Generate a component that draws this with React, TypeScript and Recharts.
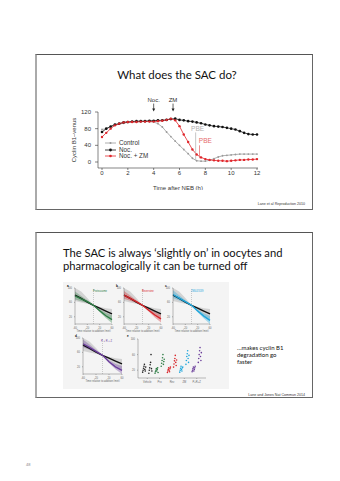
import React from 'react';
import {
  LineChart, Line, XAxis, YAxis, ReferenceLine, ReferenceDot,
  ComposedChart, Area, ScatterChart, Scatter,
} from 'recharts';

// top slide: cyclin B1-venus after NEB
const times = [0, 0.33, 0.67, 1, 1.33, 1.67, 2, 2.33, 2.67, 3, 3.33, 3.67, 4, 4.33, 4.67, 5, 5.33, 5.67, 6, 6.33, 6.67, 7, 7.33, 7.67, 8, 8.33, 8.67, 9, 9.33, 9.67, 10, 10.33, 10.67, 11, 11.33, 11.67, 12];
const control = [78, 80, 85, 88, 91, 93, 95, 96, 97, 97, 98, 97, 96, 92, 84, 72, 61, 50, 40, 30, 20, 9, 3, 2, 2, 4, 8, 12, 15, 16, 17, 18, 19, 19, 19, 19, 19];
const noc = [72, 80, 85, 90, 92, 95, 96, 97, 98, 98, 98, 99, 99, 100, 100, 101, 103, 104, 101, 100, 98, 97, 95, 93, 90, 88, 86, 85, 84, 82, 80, 78, 74, 70, 67, 66, 66];
const nocZm = [60, 70, 80, 88, 92, 95, 96, 96, 96, 97, 97, 97, 97, 98, 99, 101, 104, 100, 86, 66, 48, 30, 18, 11, 7, 5, 4, 3, 3, 2, 3, 4, 5, 5, 6, 6, 7];
const xTicks = [0, 2, 4, 6, 8, 10, 12];
const yTicks = [0, 40, 80, 120];

// bottom slide: small panels (time relative to addition, min)
const relTimes = [-60, -40, -20, 0, 20, 40, 60];
const blackTrend = [80, 71, 61, 52, 44, 36, 28];
const grayLo = [64, 60, 56, 52, 38, 24, 12];
const grayHi = [100, 90, 72, 52, 48, 44, 42];
const proteasome = [78, 70, 62, 52, 37, 23, 12];
const reversine = [80, 71, 62, 52, 38, 25, 14];
const zmDrug = [82, 72, 62, 52, 36, 22, 10];
const combo = [84, 74, 63, 52, 34, 20, 10];

const vehBefore = [15, 20, 25, 30, 35, 22, 18, 28];
const vehAfter = [12, 20, 26, 34, 40, 60, 24, 18];
const proBefore = [12, 16, 20, 24, 18, 22, 26, 14];
const proAfter = [30, 38, 45, 52, 60, 35, 42, 48];
const revBefore = [14, 18, 22, 26, 20, 16, 24, 28];
const revAfter = [28, 36, 44, 50, 58, 40, 32, 46];
const zmBefore = [15, 20, 25, 30, 22, 18, 26, 28];
const zmAfter = [35, 45, 55, 62, 70, 50, 40, 58];
const przBefore = [16, 20, 24, 28, 18, 22, 26, 30];
const przAfter = [40, 50, 60, 70, 78, 55, 45, 65];
const groups = ['Vehicle', 'Pro', 'Rev', 'ZM', 'P+R+Z'];

const GRAY = '#9a9a9a';
const RED = '#e0262b';
const axisFont = { fontSize: 6, fill: '#333', fontFamily: 'Liberation Sans, Arial, sans-serif' };

const chartData = times.map((t, i) => ({ t, control: control[i], noc: noc[i], nocZm: nocZm[i] }));

const LegendBox = () => {
  const rows = [
    { name: 'Control', color: GRAY, r: 1 },
    { name: 'Noc.', color: '#111', r: 1.4 },
    { name: 'Noc. + ZM', color: RED, r: 1.3 },
  ];
  return (
    <div style={{ fontFamily: 'Liberation Sans, Arial, sans-serif', fontSize: 6.3, color: '#333' }}>
      {rows.map(r => (
        <div key={r.name} style={{ display: 'flex', alignItems: 'center', height: 6.6, lineHeight: '6.6px' }}>
          <svg width={11} height={6} style={{ marginRight: 3 }}>
            <line x1={0} y1={3} x2={11} y2={3} stroke={r.color} strokeWidth={0.8} />
            <circle cx={5.5} cy={3} r={r.r} fill={r.color} />
          </svg>
          {r.name}
        </div>
      ))}
    </div>
  );
};

const arrowShape = (label: string) => (p: any) => (
  <g>
    <text x={p.cx} y={p.cy - 10} textAnchor="middle" fontSize={6} fill="#333" fontFamily="Liberation Sans, Arial, sans-serif">{label}</text>
    <line x1={p.cx} y1={p.cy - 8} x2={p.cx} y2={p.cy - 2} stroke="#222" strokeWidth={0.7} />
    <polygon points={`${p.cx - 1.5},${p.cy - 3} ${p.cx + 1.5},${p.cy - 3} ${p.cx},${p.cy}`} fill="#222" />
  </g>
);

const textShape = (label: string, color: string) => (p: any) => (
  <text x={p.cx} y={p.cy} textAnchor="middle" fontSize={6.5} fill={color} fontFamily="Liberation Sans, Arial, sans-serif">{label}</text>
);

const TopChart = () => (
  <LineChart width={200} height={95} data={chartData} margin={{ top: 17, right: 12, left: 0, bottom: 0 }}>
    <XAxis
      dataKey="t" type="number" domain={[0, 12]} ticks={xTicks} padding={{ left: 4, right: 1 }}
      tick={axisFont} tickSize={2} tickMargin={1} height={22} stroke="#333" strokeWidth={0.6}
      label={{ value: 'Time after NEB (h)', position: 'insideBottom', offset: 0, style: axisFont }}
    />
    <YAxis
      domain={[0, 120]} ticks={yTicks} padding={{ bottom: 6 }} width={28}
      tick={axisFont} tickSize={3} tickMargin={4} stroke="#333" strokeWidth={0.6}
      label={{ value: 'Cyclin B1–venus', angle: -90, position: 'insideLeft', offset: 4, style: { ...axisFont, textAnchor: 'middle' } }}
    />
    <Line dataKey="control" name="Control" stroke={GRAY} strokeWidth={0.8} dot={{ r: 0.9, fill: GRAY, stroke: 'none' }} isAnimationActive={false} />
    <Line dataKey="noc" name="Noc." stroke="#111" strokeWidth={0.8} dot={{ r: 1.3, fill: '#111', stroke: 'none' }} isAnimationActive={false} />
    <Line dataKey="nocZm" name="Noc. + ZM" stroke={RED} strokeWidth={0.8} dot={{ r: 1.2, fill: RED, stroke: 'none' }} isAnimationActive={false} />
    <ReferenceLine segment={[{ x: 7.25, y: 4 }, { x: 7.25, y: 71 }]} stroke="#b8b8b8" strokeWidth={0.8} ifOverflow="visible" />
    <ReferenceLine segment={[{ x: 7.55, y: 9 }, { x: 7.55, y: 40 }]} stroke="#e57373" strokeWidth={0.8} ifOverflow="visible" />
    <ReferenceDot x={7.4} y={74} ifOverflow="visible" shape={textShape('PBE', '#b0b0b0')} />
    <ReferenceDot x={8.0} y={45} ifOverflow="visible" shape={textShape('PBE', '#e56a6a')} />
    <ReferenceDot x={4} y={121} ifOverflow="visible" shape={arrowShape('Noc.')} />
    <ReferenceDot x={5.5} y={121} ifOverflow="visible" shape={arrowShape('ZM')} />
  </LineChart>
);

const tinyFont = { fontSize: 2.6, fill: '#666', fontFamily: 'Liberation Sans, Arial, sans-serif' };

const FanPanel = ({ values, color, letter, tag, w = 48, h = 48 }: { values: number[]; color: string; letter: string; tag: string; w?: number; h?: number }) => {
  const data = relTimes.map((x, i) => ({
    x,
    black: blackTrend[i],
    band: [grayLo[i], grayHi[i]],
    drug: values[i],
    drugBand: [values[i] - (Math.abs(relTimes[i]) / 6), values[i] + (Math.abs(relTimes[i]) / 5)],
  }));
  return (
    <div style={{ position: 'relative', width: w, height: h }}>
      <ComposedChart width={w} height={h} data={data} margin={{ top: 4, right: 2, left: 0, bottom: 0 }}>
        <XAxis dataKey="x" type="number" domain={[-60, 60]} ticks={[-60, -40, -20, 0, 20, 40, 60]} tick={tinyFont} tickSize={1} height={8} stroke="#555" strokeWidth={0.4}
          label={{ value: 'Time relative to addition (min)', position: 'insideBottom', offset: 0, style: tinyFont }} />
        <YAxis domain={[0, 100]} ticks={[0, 20, 40, 60, 80, 100]} tick={tinyFont} tickSize={1} width={9} stroke="#555" strokeWidth={0.4} />
        <Area dataKey="band" stroke="none" fill="#bdbdbd" fillOpacity={0.6} isAnimationActive={false} />
        <Area dataKey="drugBand" stroke="none" fill={color} fillOpacity={0.35} isAnimationActive={false} />
        <ReferenceLine x={0} stroke="#888" strokeDasharray="1 1" strokeWidth={0.4} />
        <Line dataKey="black" stroke="#111" strokeWidth={1.4} dot={false} isAnimationActive={false} />
        <Line dataKey="drug" stroke={color} strokeWidth={1.4} dot={false} isAnimationActive={false} />
      </ComposedChart>
      <div style={{ position: 'absolute', left: 1, top: 0, fontSize: 3, fontWeight: 'bold', fontFamily: 'Liberation Sans, sans-serif' }}>{letter}</div>
      <div style={{ position: 'absolute', left: 27, top: 7, fontSize: 2.6, color, fontFamily: 'Liberation Sans, sans-serif', lineHeight: 1 }}>{tag}</div>
    </div>
  );
};

const pairs = [
  { before: vehBefore, after: vehAfter, color: '#222' },
  { before: proBefore, after: proAfter, color: '#2e7d45' },
  { before: revBefore, after: revAfter, color: '#d8262b' },
  { before: zmBefore, after: zmAfter, color: '#1ea6dc' },
  { before: przBefore, after: przAfter, color: '#6a3d9a' },
];

const ScatterPanel = () => (
  <div style={{ position: 'relative', width: 82, height: 54 }}>
    <ScatterChart width={82} height={54} margin={{ top: 5, right: 2, left: 0, bottom: 0 }}>
      <XAxis type="number" dataKey="x" domain={[0, 11]} ticks={[1.5, 3.5, 5.5, 7.5, 9.5]} tickFormatter={(v: number) => groups[Math.round((v - 1.5) / 2)]} tick={tinyFont} tickSize={1} height={10} stroke="#555" strokeWidth={0.4} />
      <YAxis type="number" dataKey="y" domain={[0, 100]} ticks={[0, 20, 40, 60, 80, 100]} tick={tinyFont} tickSize={1} width={12} stroke="#555" strokeWidth={0.4} />
      {pairs.map((p, g) => (
        <Scatter
          key={g}
          data={[
            ...p.before.map((y, k) => ({ x: 2 * g + 1 + (k - 3.5) * 0.07, y })),
            ...p.after.map((y, k) => ({ x: 2 * g + 2 + (k - 3.5) * 0.07, y })),
          ]}
          fill={p.color}
          shape={(s: any) => <circle cx={s.cx} cy={s.cy} r={0.8} fill={p.color} />}
          isAnimationActive={false}
        />
      ))}
    </ScatterChart>
    <div style={{ position: 'absolute', left: 1, top: 0, fontSize: 3, fontWeight: 'bold', fontFamily: 'Liberation Sans, sans-serif' }}>e</div>
  </div>
);

const slideBox: React.CSSProperties = {
  position: 'absolute', left: 35, width: 278, boxSizing: 'border-box',
  borderTop: '1px solid #555', borderRight: '1.5px solid #666', borderBottom: '1.5px solid #666', borderLeft: '2px solid #aaa',
  background: '#fff',
};

const abs = (left: number, top: number): React.CSSProperties => ({ position: 'absolute', left, top });

export default function App() {
  return (
    <div style={{ position: 'absolute', left: 0, top: 0, width: 340, height: 481, background: '#fff', overflow: 'hidden' }}>
      <div style={{ ...slideBox, top: 54, height: 156 }} />
      <div style={{ ...slideBox, top: 232, height: 166 }} />

      <div style={{ ...abs(35, 68), width: 284, textAlign: 'center', fontFamily: 'Lato, sans-serif', fontSize: 11.5, color: '#111' }}>
        What does the SAC do?
      </div>
      <div style={{ ...abs(70, 95) }}>
        <TopChart />
      </div>
      <div style={abs(105, 140)}>
        <LegendBox />
      </div>
      <div style={{ ...abs(200, 202), width: 105, textAlign: 'right', fontFamily: 'Liberation Sans, sans-serif', fontSize: 3.6, color: '#333' }}>
        Lane et al Reproduction 2010
      </div>

      <div style={{ ...abs(63, 246), fontFamily: 'Lato, sans-serif', fontSize: 11.2, lineHeight: '13px', color: '#111', whiteSpace: 'nowrap' }}>
        The SAC is always ‘slightly on’ in oocytes and<br />pharmacologically it can be turned off
      </div>
      <div style={{ ...abs(63, 282), width: 166, height: 107, background: '#f4f4f4' }} />
      <div style={abs(66, 284)}><FanPanel values={proteasome} color="#2e7d45" letter="a" tag="Proteasome" /></div>
      <div style={abs(115, 284)}><FanPanel values={reversine} color="#d8262b" letter="b" tag="Reversine" /></div>
      <div style={abs(164, 284)}><FanPanel values={zmDrug} color="#1ea6dc" letter="c" tag="ZM447439" /></div>
      <div style={abs(74, 334)}><FanPanel values={combo} color="#6a3d9a" letter="d" tag="P + R + Z" w={50} /></div>
      <div style={abs(126, 334)}><ScatterPanel /></div>

      <div style={{ ...abs(237, 344), fontFamily: 'Lato, sans-serif', fontSize: 6, lineHeight: '7px', color: '#111' }}>
        …makes cyclin B1<br />degradation go<br />faster
      </div>
      <div style={{ ...abs(200, 393), width: 105, textAlign: 'right', fontFamily: 'Liberation Sans, sans-serif', fontSize: 3.6, color: '#333' }}>
        Lane and Jones Nat Commun 2014
      </div>
      <div style={{ ...abs(26, 462), fontFamily: 'Liberation Sans, sans-serif', fontSize: 4, color: '#888' }}>48</div>
    </div>
  );
}
